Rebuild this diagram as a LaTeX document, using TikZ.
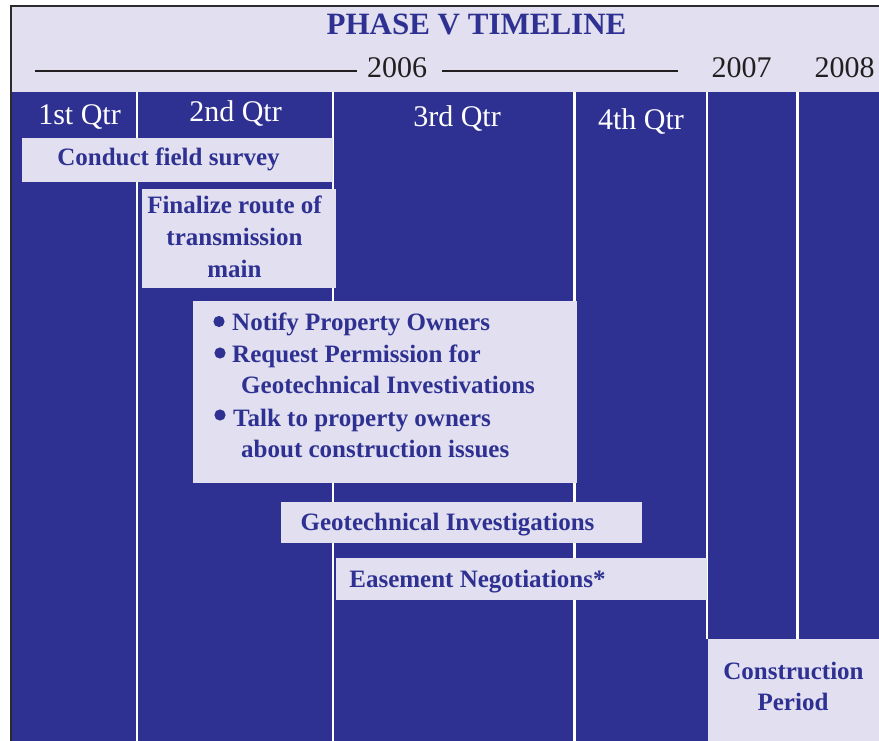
\documentclass[tikz,border=0pt]{standalone}
\usepackage{fontspec}
\setmainfont{Liberation Serif}
\definecolor{pblue}{HTML}{2E3192}
\definecolor{plav}{HTML}{E1DFF0}
\definecolor{pframe}{HTML}{2B2B2B}
\definecolor{pink}{HTML}{231F20}
\tikzset{
  lbl/.style={inner sep=0pt, anchor=base},
  lblw/.style={inner sep=0pt, anchor=base west},
  title/.style={lbl, text=pblue, font=\fontsize{31}{31}\selectfont\bfseries},
  year/.style={lbl, text=pink, font=\fontsize{30}{30}\selectfont},
  qtr/.style={lbl, text=white, font=\fontsize{30}{30}\selectfont},
  task/.style={lbl, text=pblue, font=\fontsize{25}{25}\selectfont\bfseries},
  taskw/.style={lblw, text=pblue, font=\fontsize{25}{25}\selectfont\bfseries},
  boxfill/.style={fill=plav},
  sep/.style={draw=white, line width=2.5pt},
  rule/.style={draw=pink, line width=2pt},
}
\begin{document}
\begin{tikzpicture}[x=1pt,y=-1pt]
\useasboundingbox (0,0) rectangle (879,741);
\fill[white] (0,0) rectangle (879,741);
% header and body
\fill[plav] (11,6) rectangle (879,92);
\fill[pblue] (11,92) rectangle (879,741);
\draw[pframe, line width=2.5pt] (11.2,741) -- (11.2,6);
\draw[pframe, line width=1.5pt] (10,5.8) -- (879,5.8);
% column separators
\draw[sep] (137,92) -- (137,741);
\draw[sep] (333,92) -- (333,741);
\draw[sep] (574.3,92) -- (574.3,741);
\draw[sep] (707,92) -- (707,639);
\draw[sep] (797.5,92) -- (797.5,639);
% header texts
\node[title] (ttl) at (476.5,35) {PHASE V TIMELINE};
\node[year] (y6) at (397,78) {2006};
\node[year] (y7) at (741.5,78) {2007};
\node[year] (y8) at (844.5,78) {2008};
\coordinate (la) at (35,71.5);
\coordinate (lb) at (357,71.5);
\coordinate (lc) at (442,71.5);
\coordinate (ld) at (678,71.5);
\draw[rule] (la) -- (lb);
\draw[rule] (lc) -- (ld);
% quarter labels
\node[qtr] (q1) at (79.5,125) {1st Qtr};
\node[qtr] (q2) at (235.5,122) {2nd Qtr};
\node[qtr] (q3) at (457,127) {3rd Qtr};
\node[qtr] (q4) at (641,130) {4th Qtr};
% task boxes
\fill[boxfill] (22,138.3) rectangle (333,181.7);
\node[task] (t1) at (168.5,166) {Conduct field survey};
\fill[boxfill] (141.5,189.3) rectangle (335.5,287.5);
\node[task] (t2a) at (234.5,213.5) {Finalize route of};
\node[task] (t2b) at (234.5,245) {transmission};
\node[task] (t2c) at (234.5,277) {main};
\fill[boxfill] (192.7,301) rectangle (576.7,483.3);
\fill[pblue] (219,321.5) circle (5.6);
\fill[pblue] (220,353) circle (5.6);
\fill[pblue] (220,415) circle (5.6);
\node[taskw] (b1) at (232,330) {Notify Property Owners};
\node[taskw] (b2) at (232,362) {Request Permission for};
\node[taskw] (b3) at (241,393.5) {Geotechnical Investivations};
\node[taskw] (b4) at (233,426) {Talk to property owners};
\node[taskw] (b5) at (241,457) {about construction issues};
\fill[boxfill] (281,502.3) rectangle (641.7,543.3);
\node[task] (t4) at (447.5,530) {Geotechnical Investigations};
\fill[boxfill] (336,558.3) rectangle (706.7,599.5);
\node[task] (t5) at (477.5,587.3) {Easement Negotiations*};
\fill[boxfill] (707.5,639.3) rectangle (879,741);
\node[task] (t6a) at (793.5,679) {Construction};
\node[task] (t6b) at (793,710.7) {Period};
\end{tikzpicture}
\end{document}
